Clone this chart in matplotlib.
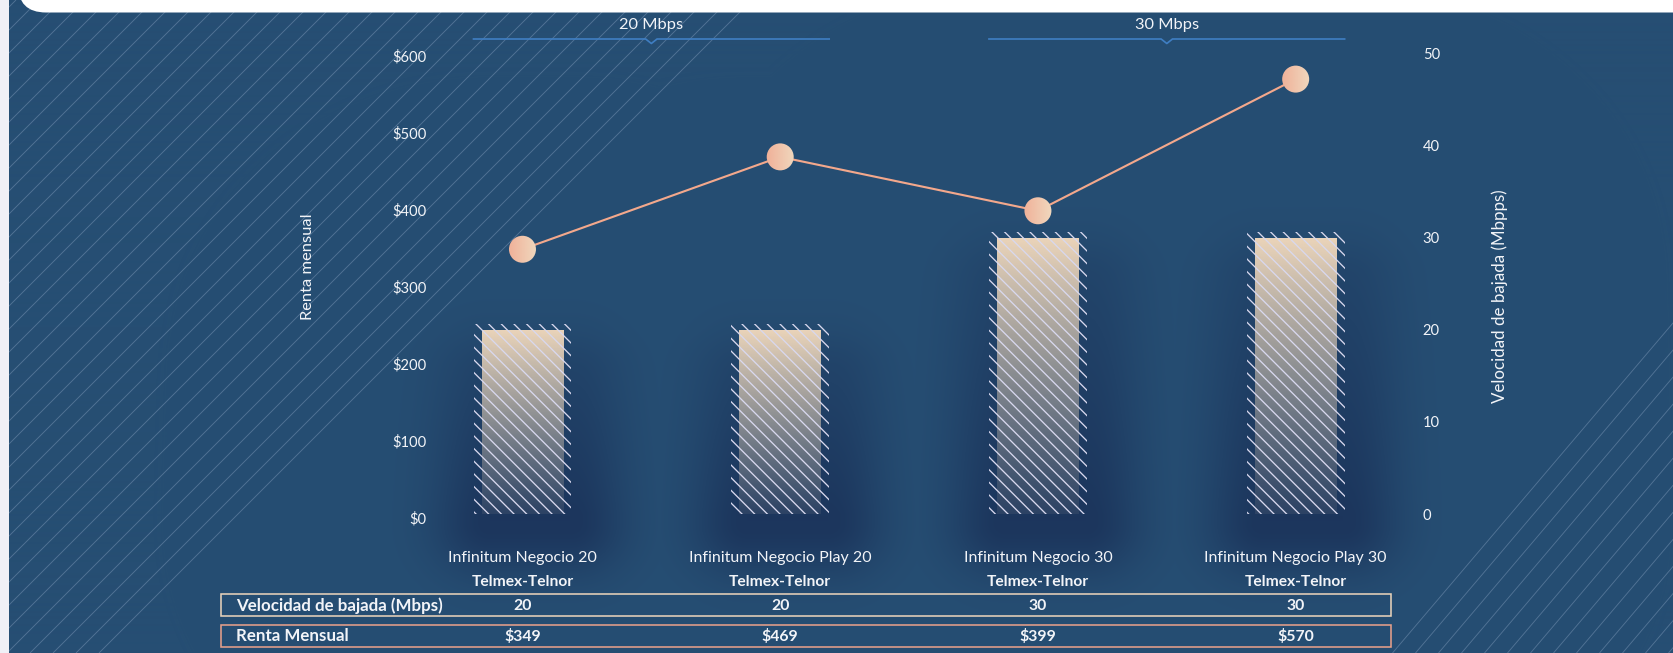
import numpy as np
import matplotlib
matplotlib.use("Agg")
import matplotlib.pyplot as plt
from matplotlib.patches import Rectangle, FancyBboxPatch, Circle
from matplotlib import transforms

# ---------------- data ----------------
plans = ["Infinitum Negocio 20", "Infinitum Negocio Play 20",
         "Infinitum Negocio 30", "Infinitum Negocio Play 30"]
providers = ["Telmex-Telnor", "Telmex-Telnor", "Telmex-Telnor", "Telmex-Telnor"]
speed = [20, 20, 30, 30]          # Mbps (right axis, bars)
price = [349, 469, 399, 570]      # MXN (left axis, line)
price_ticks = [0, 100, 200, 300, 400, 500, 600]
speed_ticks = [0, 10, 20, 30, 40, 50]
group_labels = ["20 Mbps", "30 Mbps"]
group_members = [(0, 1), (2, 3)]
row_labels = ["Velocidad de bajada (Mbps)", "Renta Mensual"]
left_label = "Renta mensual"
right_label = "Velocidad de bajada (Mbpps)"

# ---------------- style ----------------
W, H = 1673, 653
DPI = 76
plt.rcParams["font.family"] = ["Lato", "DejaVu Sans"]
plt.rcParams["hatch.linewidth"] = 1.25

BG = np.array([38, 78, 115]) / 255
DARK = np.array([28, 54, 93]) / 255
TXT = "#f2f4f8"
LINE_C = "#f3a88c"

fig = plt.figure(figsize=(W / DPI, H / DPI), dpi=DPI)

def fx(px):
    return px / W

def fy(py):
    return 1 - py / H

# background axes in pixel coordinates (y downwards)
bg = fig.add_axes([0, 0, 1, 1], zorder=0)
bg.set_xlim(0, W)
bg.set_ylim(H, 0)
bg.axis("off")

# main axes
L, R, T, B = 440, 1390, 50, 520
ax = fig.add_axes([fx(L), fy(B), (R - L) / W, (B - T) / H], zorder=2)
ax2 = ax.twinx()
ax2.set_zorder(1)
for a in (ax, ax2):
    a.patch.set_alpha(0)
    for s in a.spines.values():
        s.set_visible(False)

x = np.arange(len(plans))
XLIM = (-0.32, 3.366)
YL = (-2.6, 607.8)
YR = (-0.652, 50.43)

def set_limits():
    ax.set_xlim(*XLIM)
    ax2.set_xlim(*XLIM)
    ax.set_ylim(*YL)
    ax2.set_ylim(*YR)

# ---- bars (speed) with gradient fill ----
bar_w = 0.316
bars = ax2.bar(x, speed, width=bar_w, color="none", linewidth=0, zorder=2)
n = 256
grad = np.zeros((n, 1, 4))
top = np.array([236, 213, 186]) / 255
grad[:, 0, :3] = top
grad[:, 0, 3] = np.linspace(0.10, 1.0, n) ** 1.1
for b in bars:
    x0, y0 = b.get_x(), b.get_y()
    im = ax2.imshow(grad, extent=[x0, x0 + b.get_width(), y0, y0 + b.get_height()],
                    origin="lower", aspect="auto", zorder=2, interpolation="bilinear")
    im.set_clip_path(b)

# hatched frame over bars
ax2.bar(x, [s + 0.7 for s in speed], width=0.38, facecolor="none",
        edgecolor="#d8d8ee", linewidth=0, hatch="\\\\", zorder=3)

# ---- price line ----
ax.plot(x, price, color=LINE_C, lw=2.0, zorder=3)
set_limits()

# gradient markers
mgrad = np.zeros((1, 64, 4))
c1 = np.array([240, 176, 152]) / 255
c2 = np.array([240, 216, 190]) / 255
t = np.linspace(0, 1, 64)
mgrad[0, :, :3] = c1[None, :] * (1 - t[:, None]) + c2[None, :] * t[:, None]
mgrad[0, :, 3] = 1
r = 13.5
for xi, pi in zip(x, price):
    dxp, dyp = ax.transData.transform((xi, pi))
    circ = Circle((dxp, dyp), r, transform=transforms.IdentityTransform())
    (xa, ya), (xb, yb) = ax.transData.inverted().transform([(dxp - r - 1, dyp - r - 1),
                                                             (dxp + r + 1, dyp + r + 1)])
    im = ax.imshow(mgrad, extent=[xa, xb, ya, yb], origin="lower", aspect="auto",
                   zorder=5, interpolation="bilinear")
    im.set_clip_path(circ)
set_limits()

# ---- ticks ----
ax.set_xticks([])
ax.set_yticks(price_ticks)
ax.set_yticklabels([f"${v}" for v in price_ticks])
ax2.set_yticks(speed_ticks)
ax2.set_yticklabels([str(v) for v in speed_ticks])
ax.tick_params(axis="y", length=0, pad=13, labelcolor=TXT, labelsize=14)
ax2.tick_params(axis="y", length=0, pad=31, labelcolor=TXT, labelsize=14)
ax.tick_params(axis="x", length=0)
ax2.tick_params(axis="x", length=0)
set_limits()

# ---- background image with bar glow ----
rects = []
for b in bars:
    (px0, py0), (px1, py1) = ax2.transData.transform([(b.get_x(), 0), (b.get_x() + b.get_width(), b.get_height())])
    rects.append((px0, px1, H - py1, H - py0))
yy, xx = np.mgrid[0:H, 0:W] + 0.5
shade = np.zeros((H, W))
for (x0, x1, yt, yb) in rects:
    cx_off = 8
    ddx = np.maximum(0, np.maximum((x0 + cx_off) - xx, xx - (x1 + cx_off)))
    ddy = np.maximum(0, np.maximum((yt + 40) - yy, yy - (yb + 10)))
    s = np.exp(-(ddx / 55) ** 2 - (ddy / 50) ** 2)
    wv = 0.3 + 0.7 * np.clip((yy - yt) / (yb - yt), 0, 1)
    shade = np.maximum(shade, s * wv)
img = BG[None, None, :] * (1 - shade[..., None]) + DARK[None, None, :] * shade[..., None]
bg.imshow(img, extent=[0, W, H, 0], origin="upper", aspect="auto", zorder=0)

# ---- diagonal stripes ----
stripe_kw = dict(color=(0.72, 0.80, 0.90), alpha=0.30, lw=0.85, zorder=1, solid_capstyle="butt")
for c in np.arange(752, 0, -23):
    bg.plot([c, c - H], [0, H], **stripe_kw)
k = 0.85
for c in np.arange(1673 + k * 323, 1673 + k * H + 30, 23):
    bg.plot([c, c - k * H], [0, H], **stripe_kw)

# left grey strip and white top bar
bg.add_patch(Rectangle((0, 0), 9.5, H, facecolor="#f0f0f6", edgecolor="none", zorder=3))
bg.add_patch(FancyBboxPatch((18, -60), W + 40, 72.5, boxstyle="round,pad=0,rounding_size=28",
                            facecolor="white", edgecolor="none", zorder=3))
bg.set_xlim(0, W)
bg.set_ylim(H, 0)

# ---- texts below / above chart ----
tr = transforms.blended_transform_factory(ax.transData, bg.transData)
for i in range(len(plans)):
    ax.text(x[i], 558, plans[i], transform=tr, ha="center", va="center",
            color=TXT, fontsize=15.2, clip_on=False)
    ax.text(x[i], 582, providers[i], transform=tr, ha="center", va="center",
            color=TXT, fontsize=14.8, fontweight="bold", clip_on=False)
    ax.text(x[i], 606, str(speed[i]), transform=tr, ha="center", va="center",
            color=TXT, fontsize=15, fontweight="bold", clip_on=False)
    ax.text(x[i], 636.5, f"${price[i]}", transform=tr, ha="center", va="center",
            color=TXT, fontsize=15, fontweight="bold", clip_on=False)

# table rows
row_y = [(594, 616), (624.5, 647)]
row_ec = ["#e8d2ba", "#e6a08a"]
for (y0, y1), ec, lab in zip(row_y, row_ec, row_labels):
    bg.add_patch(Rectangle((221, y0), 1391 - 221, y1 - y0, facecolor="none",
                           edgecolor=ec, lw=1.5, zorder=4))
    bg.text(236, (y0 + y1) / 2 + 0.5, lab, ha="left", va="center", color=TXT,
            fontsize=16, fontweight="bold", zorder=5)

# group brackets
GC = "#3f7ec2"
half = 0.69
chev = 0.022
for lab, (a, b) in zip(group_labels, group_members):
    cx = (x[a] + x[b]) / 2
    ax.plot([cx - half, cx - chev, cx, cx + chev, cx + half],
            [39, 39, 43.5, 39, 39], color=GC, lw=1.6, transform=tr, clip_on=False, zorder=4)
    ax.text(cx, 25, lab, transform=tr, ha="center", va="center", color=TXT,
            fontsize=15.5, clip_on=False)

# axis titles
fig.text(fx(308), fy(267), left_label, rotation=90, ha="center", va="center",
         color=TXT, fontsize=15.6)
fig.text(fx(1500), fy(296), right_label, rotation=90, ha="center", va="center",
         color=TXT, fontsize=16)

set_limits()
fig.savefig("out.png", dpi=DPI)
